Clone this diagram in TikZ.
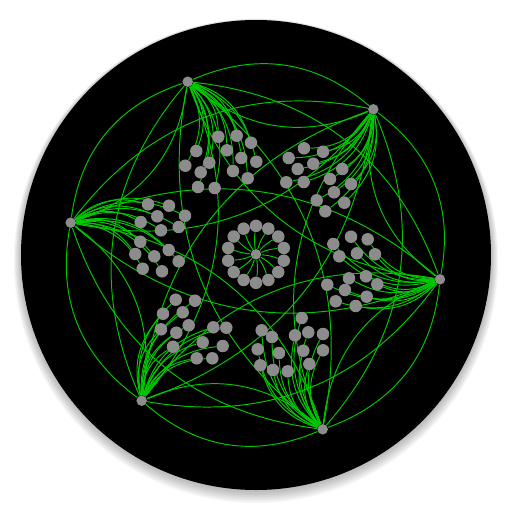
\documentclass[tikz,border=0pt]{standalone}
\pgfdeclarelayer{disc}
\pgfdeclarelayer{links}
\pgfsetlayers{disc,links,main}
\definecolor{linkgreen}{RGB}{0,200,0}
\definecolor{dotgray}{RGB}{140,140,140}
\tikzset{
  dot/.style={circle,fill=dotgray,inner sep=0pt,minimum size=0.25cm},
  hub/.style={circle,fill=dotgray,inner sep=0pt,minimum size=0.21cm},
  link/.style={draw=linkgreen,line width=0.55pt},
}
\begin{document}
\begin{tikzpicture}[x=0.02cm,y=-0.02cm]
\useasboundingbox (0,0) rectangle (512,512);
\begin{pgfonlayer}{disc}
\foreach \k in {1,...,8}
  \fill[black,opacity=0.035] (256,256+\k*0.6) circle (235+\k*0.9);
\fill[black] (256,255) circle (235);
\end{pgfonlayer}
\node[hub] (o1) at (187.7,81.7) {};
\node[hub] (o2) at (373.3,109.3) {};
\node[hub] (o3) at (440,279.3) {};
\node[hub] (o4) at (322.7,429.3) {};
\node[hub] (o5) at (141.7,400.7) {};
\node[hub] (o6) at (70.7,222.7) {};
\node[hub] (c0) at (256,254.3) {};
\foreach \i in {1,...,14}
  \node[dot] (r\i) at ([shift={(90-\i*25.714:28.5)}]c0) {};
\foreach \n/\x/\y in {1/218.3/136.7, 2/236.7/135.7, 3/251/142.7, 4/196.3/151,
    5/227/150.3, 6/241.3/158, 7/256.3/161.7, 8/185.3/165.7, 9/209.3/162.7,
    10/200.7/172.3, 11/233/171, 12/247.7/178.3, 13/198/187, 14/214.7/188}
  \node[dot] (a\n) at (\x,\y) {};
\foreach \n/\x/\y in {1/304/148.3, 2/323/151.7, 3/288.7/158, 4/313.3/163.7,
    5/297.7/169, 6/342.3/169, 7/330/179, 8/351/184, 9/286.3/182.3,
    10/303.7/182, 11/334/192.3, 12/316.7/200.3, 13/344.3/202.7, 14/325.3/211.3}
  \node[dot] (b\n) at (\x,\y) {};
\foreach \n/\x/\y in {1/351/236.7, 2/367.7/239.3, 3/333.3/244, 4/357/253.3,
    5/375/254.3, 6/339.3/256.3, 7/349/278.3, 8/366/276.3, 9/377.3/284.3,
    10/327.3/284.7, 11/345/290, 12/366.7/296.7, 13/335.7/301.3, 14/355.7/306}
  \node[dot] (c\n) at (\x,\y) {};
\foreach \n/\x/\y in {1/301.7/318, 2/261.7/330.3, 3/272/337, 4/295/335.3,
    5/308.3/332.3, 6/323/334, 7/257.7/349.3, 8/279/353, 9/303.3/350.7,
    10/323/350.3, 11/260.3/365.3, 12/273/370, 13/287.7/371.3, 14/309.3/364}
  \node[dot] (d\n) at (\x,\y) {};
\foreach \n/\x/\y in {1/175.7/299.7, 2/195/300.7, 3/163/313.7, 4/182.7/312.3,
    5/188.7/325.3, 6/161/329.3, 7/176.3/332.7, 8/213.3/327.3, 9/226.3/327.7,
    10/202.7/342.3, 11/173/346.7, 12/222.7/346, 13/196.7/358.3, 14/212.3/358.3}
  \node[dot] (e\n) at (\x,\y) {};
\foreach \n/\x/\y in {1/148/204.3, 2/169/205.7, 3/185/215.7, 4/140.7/222,
    5/157.3/216.3, 6/178.7/227, 7/161/230.3, 8/140.3/241.7, 9/168.7/250,
    10/154.3/256.3, 11/135.3/254, 12/178.7/261.3, 13/142.7/268.7, 14/162/271.3}
  \node[dot] (f\n) at (\x,\y) {};
\begin{pgfonlayer}{links}
\foreach \n in {1,...,14} {
  \draw[link] (o1) to[bend left=28] (a\n);
  \draw[link] (o2) to[bend left=28] (b\n);
  \draw[link] (o3) to[bend left=28] (c\n);
  \draw[link] (o4) to[bend left=28] (d\n);
  \draw[link] (o5) to[bend left=28] (e\n);
  \draw[link] (o6) to[bend left=28] (f\n);
  \draw[link] (c0) to[bend left=8] (r\n);
}
\foreach \i in {1,...,6}
  \foreach \j in {1,...,6} {
    \ifnum\i=\j\else\draw[link] (o\i) to[bend left=32] (o\j);\fi
  }
\end{pgfonlayer}
\end{tikzpicture}
\end{document}
